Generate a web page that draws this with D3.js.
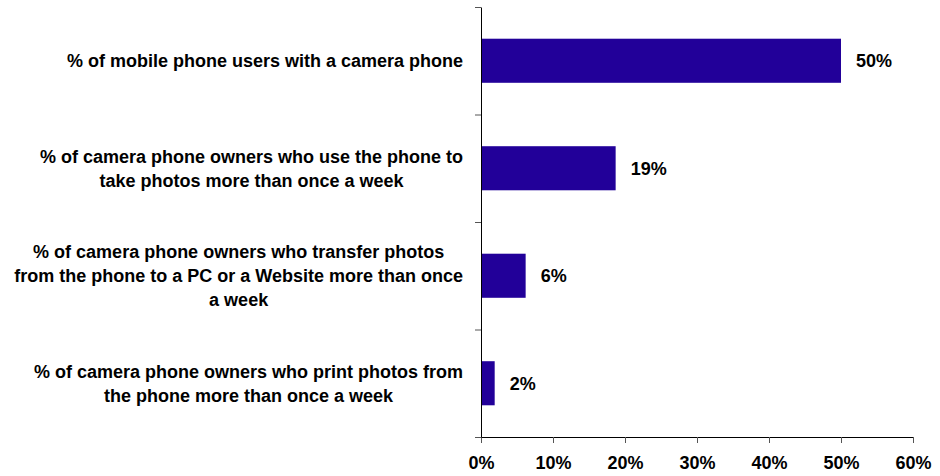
<!DOCTYPE html>
<html>
<head>
<meta charset="utf-8">
<script src="https://cdn.jsdelivr.net/npm/d3@7"></script>
<style>
  html, body { margin: 0; padding: 0; background: #fff; }
  text { font-family: "Liberation Sans", Arial, sans-serif; font-weight: bold; }
</style>
</head>
<body>
<svg id="chart" width="940" height="476"></svg>
<script>
// Data
const categories = [
  ["% of mobile phone users with a camera phone"],
  ["% of camera phone owners who use the phone to", "take photos more than once a week"],
  ["% of camera phone owners who transfer photos", "from the phone to a PC or a Website more than once", "a week"],
  ["% of camera phone owners who print photos from", "the phone more than once a week"]
];
const values = [0.50, 0.187, 0.062, 0.019];
const xTicks = [0, 0.1, 0.2, 0.3, 0.4, 0.5, 0.6];

(function () {
const svg = d3.select("#chart");
const mLeft = 481, mRight = 913, mTop = 7, mBottom = 437;
const fs = 18;

const x = d3.scaleLinear().domain([0, 0.6]).range([mLeft, mRight]);
const y = d3.scaleBand().domain(d3.range(categories.length)).range([mTop, mBottom])
  .paddingInner(0.59).paddingOuter(0.295);

// bars
svg.append("g").selectAll("rect").data(values).enter().append("rect")
  .attr("x", x(0))
  .attr("y", (d, i) => y(i))
  .attr("width", d => x(d) - x(0))
  .attr("height", y.bandwidth())
  .attr("fill", "#220099");

// value labels
const fmt = d3.format(".0%");
svg.append("g").selectAll("text").data(values).enter().append("text")
  .attr("x", d => x(d) + 15)
  .attr("y", (d, i) => y(i) + y.bandwidth() / 2)
  .attr("dy", "0.35em")
  .attr("font-size", fs)
  .attr("fill", "#000")
  .text(d => fmt(d));

// x axis
const xAxis = d3.axisBottom(x).tickValues(xTicks).tickFormat(d3.format(".0%")).tickSize(6).tickPadding(13);
const gx = svg.append("g").attr("transform", `translate(0,${mBottom})`).call(xAxis);
gx.select(".domain").attr("stroke", "#000").attr("stroke-width", 1);
gx.selectAll(".tick line").attr("stroke", "#555");
gx.selectAll(".tick text").attr("font-size", fs).attr("fill", "#000")
  .style("font-family", '"Liberation Sans", Arial, sans-serif').style("font-weight", "bold");

// y axis line with category boundary ticks
const yTickScale = d3.scaleLinear().domain([0, categories.length]).range([mTop, mBottom]);
const yAxis = d3.axisLeft(yTickScale).tickValues(d3.range(categories.length + 1)).tickFormat("").tickSize(6).tickSizeOuter(0);
const gy = svg.append("g").attr("transform", `translate(${mLeft},0)`).call(yAxis);
gy.select(".domain").attr("stroke", "#000").attr("stroke-width", 1);
gy.selectAll(".tick line").attr("stroke", "#555");

// category labels
const labelRight = 463, lineH = 24;
const lg = svg.append("g");
categories.forEach((lines, i) => {
  const g = lg.append("g");
  const texts = lines.map((ln, j) => g.append("text")
    .attr("font-size", fs).attr("fill", "#000")
    .attr("text-anchor", "middle")
    .attr("y", y(i) + y.bandwidth() / 2 + (j - (lines.length - 1) / 2) * lineH)
    .attr("dy", "0.35em")
    .text(ln));
  const maxW = d3.max(texts, t => t.node().getComputedTextLength());
  texts.forEach(t => t.attr("x", labelRight - maxW / 2));
});
})();
</script>
</body>
</html>
